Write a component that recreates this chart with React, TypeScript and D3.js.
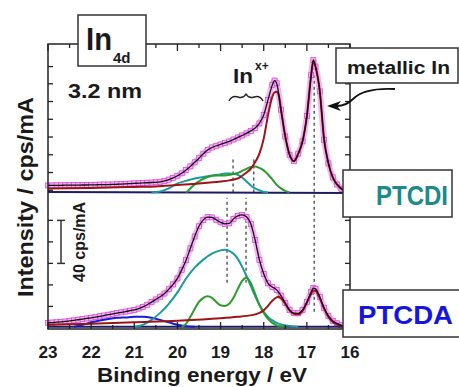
import React, { useEffect, useRef } from 'react';
import * as d3 from 'd3';

type Pt = [number, number];

// binding energy ticks
const majorTicks = [23, 22, 21, 20, 19, 18, 17, 16];
const minorTicks = [22.5, 21.5, 20.5, 19.5, 18.5, 17.5, 16.5];
// intensity tick marks on the side frames (cps/mA, bottom baseline = 0)
const sideTicks = [19, 39, 59, 79, 99, 127, 143.5, 160, 176.5, 193, 209.5, 226, 242];

// vertical offset of the PTCDI spectrum
const topOffset = 125;

// ---- PTCDI (upper) ----
const ptcdiData: Pt[] = [
  [23.0, 6.5], [22.9, 6.5], [22.8, 6.6], [22.7, 6.6], [22.6, 6.7], [22.5, 6.7], [22.4, 6.8], [22.3, 6.8],
  [22.2, 6.9], [22.1, 6.9], [22.0, 7.0], [21.9, 7.1], [21.8, 7.2], [21.7, 7.3], [21.6, 7.3], [21.5, 7.4],
  [21.4, 7.6], [21.3, 7.8], [21.2, 8.0], [21.1, 8.2], [21.0, 8.4], [20.9, 8.6], [20.8, 8.8], [20.7, 9.0],
  [20.6, 9.2], [20.5, 9.4], [20.4, 9.9], [20.3, 10.7], [20.2, 11.9], [20.1, 13.5], [20.0, 15.5], [19.9, 17.8],
  [19.8, 20.8], [19.7, 24.2], [19.6, 28.0], [19.5, 31.8], [19.4, 36.0], [19.3, 39.5], [19.2, 41.8], [19.1, 43.4],
  [19.0, 44.6], [18.9, 46.0], [18.8, 47.4], [18.7, 49.2], [18.6, 51.1], [18.5, 53.0], [18.4, 54.9], [18.3, 57.2],
  [18.2, 59.8], [18.1, 64.2], [18.0, 72], [17.9, 86], [17.8, 100], [17.75, 104], [17.7, 101.5], [17.6, 77],
  [17.5, 52], [17.4, 35], [17.3, 29], [17.2, 36], [17.1, 47.5], [17.0, 71], [16.9, 109], [16.85, 123],
  [16.8, 117], [16.7, 94], [16.6, 49], [16.5, 27], [16.4, 14], [16.3, 7.4], [16.2, 3.3], [16.1, 1], [16.0, 0.2],
];
const ptcdiMetal: Pt[] = [
  [23, 3.7], [22, 4.2], [21, 5.1], [20.5, 5.6], [20, 7], [19.5, 8.4], [19, 10.2], [18.8, 11.2], [18.6, 13],
  [18.4, 18.5], [18.3, 22], [18.2, 28], [18.1, 36], [18.0, 50], [17.9, 72], [17.8, 89], [17.75, 93], [17.7, 93.5],
  [17.65, 90], [17.6, 77], [17.5, 52], [17.4, 35], [17.3, 29], [17.2, 36], [17.1, 47.5], [17.0, 71], [16.9, 109],
  [16.85, 123], [16.8, 117], [16.7, 94], [16.6, 49], [16.5, 27], [16.4, 14], [16.3, 7.4], [16.2, 3.3], [16.1, 1], [16.0, 0.2],
];
const ptcdiTeal: Pt[] = [
  [20.6, 0], [20.4, 0.9], [20.2, 3.7], [20.0, 8.4], [19.8, 10.7], [19.6, 13], [19.4, 14.4], [19.2, 15.8],
  [19.0, 16.7], [18.9, 17.7], [18.8, 17.7], [18.7, 17.2], [18.6, 16.3], [18.5, 13.9], [18.4, 10.2], [18.3, 6.5],
  [18.2, 3.7], [18.1, 1.9], [18.0, 0.5], [17.9, 0],
];
const ptcdiGreen: Pt[] = [
  [19.8, 0], [19.7, 3.7], [19.6, 7.4], [19.5, 10.2], [19.4, 12.6], [19.3, 14.4], [19.2, 15.3], [19.1, 15.8],
  [19.0, 15.8], [18.9, 15.8], [18.8, 16.3], [18.7, 17.2], [18.6, 18.1], [18.5, 20], [18.4, 21.9], [18.3, 23.7],
  [18.2, 24.2], [18.1, 22.8], [18.0, 20.5], [17.9, 16.7], [17.8, 12.1], [17.7, 7], [17.6, 3.7], [17.5, 1.4], [17.4, 0],
];
const ptcdiBackground: Pt[] = [[23, 0.5], [16, -0.5]];

// ---- PTCDA (lower) ----
const ptcdaData: Pt[] = [
  [23.0, 3.7], [22.9, 4.0], [22.8, 4.3], [22.7, 4.6], [22.6, 5.0], [22.5, 5.6], [22.4, 6.0], [22.3, 6.6],
  [22.2, 7.2], [22.1, 7.8], [22.0, 8.4], [21.9, 9.1], [21.8, 9.8], [21.7, 10.5], [21.6, 11.3], [21.5, 12.1],
  [21.4, 12.8], [21.3, 13.5], [21.2, 14.2], [21.1, 15.0], [21.0, 15.8], [20.9, 17.0], [20.8, 18.6], [20.7, 20.5],
  [20.6, 23.0], [20.5, 25.5], [20.4, 28.0], [20.3, 31.0], [20.2, 35.0], [20.1, 39.5], [20.0, 45], [19.9, 53],
  [19.8, 62], [19.7, 73], [19.6, 84], [19.5, 93.5], [19.4, 99.5], [19.3, 102], [19.2, 101.8], [19.1, 99.5],
  [19.0, 97.2], [18.9, 95.8], [18.8, 96.2], [18.7, 100.4], [18.6, 103.2], [18.5, 104.1], [18.4, 102.3], [18.3, 95.8],
  [18.2, 80.9], [18.1, 62.3], [18.0, 49.3], [17.9, 40.5], [17.8, 37], [17.7, 34.4], [17.6, 29], [17.5, 22.3],
  [17.4, 15.5], [17.3, 12.8], [17.2, 12.6], [17.1, 15.8], [17.0, 23.2], [16.9, 32.5], [16.85, 36], [16.8, 35.3],
  [16.7, 27.9], [16.6, 17.7], [16.5, 10.2], [16.4, 5.6], [16.3, 3.3], [16.2, 1.4], [16.1, 0.5], [16.0, 0],
];
const ptcdaMetal: Pt[] = [
  [23, 1.9], [22, 2.8], [21, 4.2], [20, 5.6], [19, 7.9], [18.6, 9.3], [18.4, 10.2], [18.2, 11.6], [18.1, 13],
  [18.0, 15.3], [17.9, 19.5], [17.8, 24.2], [17.7, 27.4], [17.65, 27.9], [17.6, 26.5], [17.5, 21.4], [17.4, 15.3],
  [17.3, 12.1], [17.2, 11.6], [17.1, 14.9], [17.0, 22.3], [16.9, 30.7], [16.85, 33.9], [16.8, 33.5], [16.7, 26.5],
  [16.6, 16.7], [16.5, 9.3], [16.4, 4.6], [16.3, 2.3], [16.2, 0.9], [16.0, 0],
];
const ptcdaTeal: Pt[] = [
  [21.0, 0], [20.8, 1.9], [20.6, 6.5], [20.4, 13], [20.2, 21.4], [20.0, 32], [19.8, 45], [19.6, 55], [19.4, 62.5],
  [19.2, 68], [19.0, 71.1], [18.9, 71.6], [18.8, 70.7], [18.7, 67.9], [18.6, 63.2], [18.5, 55.8], [18.4, 47.4],
  [18.3, 38.1], [18.2, 28.8], [18.1, 20.5], [18.0, 13.9], [17.9, 9.3], [17.8, 6], [17.7, 3.7], [17.6, 2.3],
  [17.4, 0.9], [17.2, 0],
];
const ptcdaGreen: Pt[] = [
  [19.9, 0], [19.8, 2.8], [19.7, 9.3], [19.6, 16.7], [19.5, 23.2], [19.4, 27], [19.3, 28.4], [19.2, 27],
  [19.1, 23.2], [19.0, 20], [18.9, 19.5], [18.8, 21.4], [18.7, 27], [18.6, 35.3], [18.5, 42.8], [18.4, 45.6],
  [18.3, 40.9], [18.2, 30.7], [18.1, 20.5], [18.0, 13], [17.9, 7.4], [17.8, 3.7], [17.7, 1.4], [17.6, 0.5], [17.5, 0],
];
const ptcdaBlue: Pt[] = [
  [22.4, 0], [22.2, 1.9], [22.0, 4.2], [21.8, 6], [21.6, 7.4], [21.4, 8.4], [21.2, 8.8], [21.0, 9.3],
  [20.8, 9.3], [20.6, 8.4], [20.4, 6.5], [20.2, 4.2], [20.0, 1.9], [19.8, 0.5], [19.6, 0],
];
const ptcdaBackground: Pt[] = [[23, 0], [16, 0]];

// dashed peak markers (eV)
const ptcdiDashes = [18.71, 18.23];
const ptcdaDashes = [18.85, 18.41];
const metallicPeak = 16.83;

const FONT = 'Liberation Sans, Arial, Helvetica, sans-serif';
const colors = {
  data: '#d445d4',
  dataFill: '#f5b2f5',
  fit: '#111',
  metal: '#9c1418',
  teal: '#1c9a9a',
  green: '#2b9b2b',
  blue: '#1a1ad6',
  bg: '#1c1c60',
};

const App = () => {
  const svgRef = useRef<SVGSVGElement>(null);

  useEffect(() => {
    const width = 459;
    const height = 387;
    const x = d3.scaleLinear().domain([23, 16]).range([48, 350]);
    const y = d3.scaleLinear().domain([-2, 263]).range([329, 44]);

    const svg = d3.select(svgRef.current)
      .attr('width', width)
      .attr('height', height)
      .style('font-family', FONT);
    svg.selectAll('*').remove();

    const line = (offset: number) => d3.line<Pt>()
      .x(d => x(d[0]))
      .y(d => y(d[1] + offset))
      .curve(d3.curveMonotoneX);

    const panels = [
      { data: ptcdiData, offset: topOffset, comps: [[ptcdiBackground, colors.bg], [ptcdiTeal, colors.teal], [ptcdiGreen, colors.green], [ptcdiMetal, colors.metal]] },
      { data: ptcdaData, offset: 0, comps: [[ptcdaBackground, colors.bg], [ptcdaBlue, colors.blue], [ptcdaTeal, colors.teal], [ptcdaGreen, colors.green], [ptcdaMetal, colors.metal]] },
    ];

    // dashed lines
    const dash = svg.append('g')
      .attr('stroke', '#444')
      .attr('stroke-width', 1.3)
      .attr('stroke-dasharray', '3,3');
    dash.selectAll('.dt').data(ptcdiDashes).enter().append('line')
      .attr('x1', d => x(d)).attr('x2', d => x(d))
      .attr('y1', y(topOffset)).attr('y2', y(topOffset + 32));
    dash.selectAll('.db').data(ptcdaDashes).enter().append('line')
      .attr('x1', d => x(d)).attr('x2', d => x(d))
      .attr('y1', y(41)).attr('y2', y(120));
    dash.append('line')
      .attr('x1', x(metallicPeak)).attr('x2', x(metallicPeak))
      .attr('y1', y(14)).attr('y2', y(246));

    panels.forEach(p => {
      const g = svg.append('g');
      // measured data: pink band + open squares
      g.append('path')
        .datum(p.data)
        .attr('fill', 'none')
        .attr('stroke', colors.dataFill)
        .attr('stroke-width', 6)
        .attr('d', line(p.offset));
      g.selectAll('rect').data(p.data).enter().append('rect')
        .attr('x', d => x(d[0]) - 2.5)
        .attr('y', d => y(d[1] + p.offset) - 2.5)
        .attr('width', 5)
        .attr('height', 5)
        .attr('fill', colors.dataFill)
        .attr('stroke', colors.data)
        .attr('stroke-width', 0.7);
      p.comps.forEach(([arr, c]) => {
        g.append('path')
          .datum(arr as Pt[])
          .attr('fill', 'none')
          .attr('stroke', c as string)
          .attr('stroke-width', 2)
          .attr('d', line(p.offset));
      });
      g.append('path')
        .datum(p.data)
        .attr('fill', 'none')
        .attr('stroke', colors.fit)
        .attr('stroke-width', 1.3)
        .attr('d', line(p.offset));
    });

    // frame
    const [x0, x1] = x.range();
    const [yb, yt] = y.range();
    svg.append('rect')
      .attr('x', x0).attr('y', yt)
      .attr('width', x1 - x0).attr('height', yb - yt)
      .attr('fill', 'none').attr('stroke', '#222').attr('stroke-width', 1.5);

    const ticks = svg.append('g').attr('stroke', '#222').attr('stroke-width', 1.3);
    const addX = (vals: number[], len: number) => {
      ticks.selectAll(null).data(vals).enter().append('line')
        .attr('x1', d => x(d)).attr('x2', d => x(d))
        .attr('y1', yb).attr('y2', yb - len);
      ticks.selectAll(null).data(vals).enter().append('line')
        .attr('x1', d => x(d)).attr('x2', d => x(d))
        .attr('y1', yt).attr('y2', yt + len);
    };
    addX(majorTicks, 7);
    addX(minorTicks, 4);
    ticks.selectAll(null).data(sideTicks).enter().append('line')
      .attr('x1', x0).attr('x2', x0 + 5)
      .attr('y1', d => y(d)).attr('y2', d => y(d));
    ticks.selectAll(null).data(sideTicks).enter().append('line')
      .attr('x1', x1).attr('x2', x1 - 5)
      .attr('y1', d => y(d)).attr('y2', d => y(d));

    svg.append('g').selectAll('text').data(majorTicks).enter().append('text')
      .attr('x', d => x(d)).attr('y', 358)
      .attr('text-anchor', 'middle')
      .attr('font-size', 16).attr('font-weight', 'bold').attr('fill', '#1a1a1a')
      .attr('textLength', 19).attr('lengthAdjust', 'spacingAndGlyphs')
      .text(d => d);

    // axis titles
    svg.append('text')
      .attr('x', 202).attr('y', 382)
      .attr('text-anchor', 'middle')
      .attr('font-size', 20).attr('font-weight', 'bold').attr('fill', '#1a1a1a')
      .attr('textLength', 210).attr('lengthAdjust', 'spacingAndGlyphs')
      .text('Binding energy / eV');
    svg.append('text')
      .attr('transform', 'translate(33,197) rotate(-90)')
      .attr('text-anchor', 'middle')
      .attr('font-size', 22).attr('font-weight', 'bold').attr('fill', '#1a1a1a')
      .attr('textLength', 200).attr('lengthAdjust', 'spacingAndGlyphs')
      .text('Intensity / cps/mA');

    // 40 cps/mA scale bar
    const sb = svg.append('g').attr('stroke', '#333').attr('stroke-width', 1.5);
    sb.append('line').attr('x1', 61).attr('x2', 61).attr('y1', y(59)).attr('y2', y(99));
    sb.append('line').attr('x1', 57).attr('x2', 65).attr('y1', y(59)).attr('y2', y(59));
    sb.append('line').attr('x1', 57).attr('x2', 65).attr('y1', y(99)).attr('y2', y(99));
    svg.append('text')
      .attr('transform', `translate(85,${y(79)}) rotate(-90)`)
      .attr('text-anchor', 'middle')
      .attr('font-size', 16).attr('font-weight', 'bold').attr('fill', '#1a1a1a')
      .attr('textLength', 80).attr('lengthAdjust', 'spacingAndGlyphs')
      .text('40 cps/mA');

    // In4d box
    svg.append('rect').attr('x', 78).attr('y', 15).attr('width', 68).attr('height', 51)
      .attr('fill', '#fff').attr('stroke', '#333').attr('stroke-width', 1.5);
    svg.append('text').attr('x', 86).attr('y', 50)
      .attr('font-size', 32).attr('font-weight', 'bold').attr('fill', '#1a1a1a')
      .attr('textLength', 26).attr('lengthAdjust', 'spacingAndGlyphs')
      .text('In');
    svg.append('text').attr('x', 113).attr('y', 63)
      .attr('font-size', 15).attr('font-weight', 'bold').attr('fill', '#1a1a1a')
      .text('4d');

    svg.append('text').attr('x', 68).attr('y', 98)
      .attr('font-size', 20).attr('font-weight', 'bold').attr('fill', '#1a1a1a')
      .attr('textLength', 74).attr('lengthAdjust', 'spacingAndGlyphs')
      .text('3.2 nm');

    // In x+ with brace
    svg.append('text').attr('x', 233).attr('y', 83)
      .attr('font-size', 21).attr('font-weight', 'bold').attr('fill', '#1a1a1a')
      .attr('textLength', 20).attr('lengthAdjust', 'spacingAndGlyphs')
      .text('In');
    svg.append('text').attr('x', 255).attr('y', 70)
      .attr('font-size', 12).attr('font-weight', 'bold').attr('fill', '#1a1a1a')
      .text('x+');
    svg.append('path')
      .attr('d', 'M229,101 Q232,95 238,97 Q243,99 246,94 Q249,99 254,97 Q260,95 263,101')
      .attr('fill', 'none').attr('stroke', '#222').attr('stroke-width', 1.4);

    // metallic In label + arrow
    svg.append('rect').attr('x', 336).attr('y', 48).attr('width', 122).attr('height', 35)
      .attr('fill', '#fff').attr('stroke', '#333').attr('stroke-width', 1.5);
    svg.append('text').attr('x', 347).attr('y', 74)
      .attr('font-size', 18).attr('font-weight', 'bold').attr('fill', '#1a1a1a')
      .attr('textLength', 103).attr('lengthAdjust', 'spacingAndGlyphs')
      .text('metallic In');
    svg.append('path')
      .attr('d', 'M395,89 C375,88 360,92 353,99 C349,103 344,106 337,106')
      .attr('fill', 'none').attr('stroke', '#111').attr('stroke-width', 1.8);
    svg.append('path')
      .attr('d', 'M327,106 L341,101 L337,106 L341,111 Z')
      .attr('fill', '#111');

    // sample labels
    svg.append('rect').attr('x', 343).attr('y', 170).attr('width', 109).attr('height', 47)
      .attr('fill', '#fff').attr('stroke', '#333').attr('stroke-width', 1.5);
    svg.append('text').attr('x', 376).attr('y', 205)
      .attr('font-size', 28).attr('font-weight', 'bold').attr('fill', '#1a8a8a')
      .attr('textLength', 72).attr('lengthAdjust', 'spacingAndGlyphs')
      .text('PTCDI');
    svg.append('rect').attr('x', 343).attr('y', 290).attr('width', 125).attr('height', 47)
      .attr('fill', '#fff').attr('stroke', '#333').attr('stroke-width', 1.5);
    svg.append('text').attr('x', 358).attr('y', 324)
      .attr('font-size', 25).attr('font-weight', 'bold').attr('fill', '#1515e0')
      .attr('textLength', 95).attr('lengthAdjust', 'spacingAndGlyphs')
      .text('PTCDA');
  }, []);

  return (
    <svg ref={svgRef} style={{ position: 'absolute', left: 0, top: 0, background: '#fff' }} />
  );
};

export default App;
